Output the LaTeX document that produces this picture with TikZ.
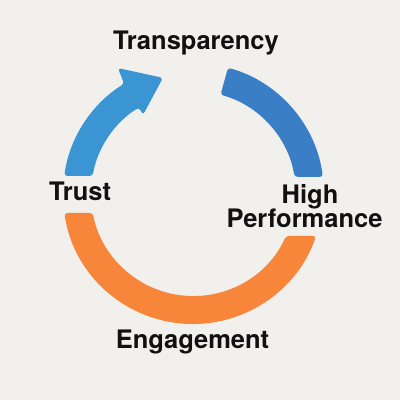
\documentclass[tikz,border=0pt]{standalone}
\usepackage{fontspec}
\setmainfont{TeX Gyre Heros}
\usetikzlibrary{calc}
\definecolor{bgc}{HTML}{F2F0ED}
\definecolor{blueL}{HTML}{3B95D3}
\definecolor{blueR}{HTML}{3A7EC6}
\definecolor{orng}{HTML}{F7863A}
\definecolor{ink}{HTML}{111111}
\tikzset{
  lbl/.style={font=\fontsize{25.5}{28}\selectfont\bfseries, text=ink, inner sep=0pt, anchor=base},
  seg/.style={rounded corners=3pt}
}
\begin{document}
\begin{tikzpicture}[x=1pt,y=1pt]
\useasboundingbox (0,0) rectangle (400,400);
\fill[bgc] (0,0) rectangle (400,400);
\coordinate (c) at (193,206);
% orange arc (bottom)
\fill[orng,seg] ($(c)+(188.4:130)$) arc[start angle=188.4, end angle=341.15, radius=130]
  -- ($(c)+(335.7:102)$) arc[start angle=335.7, end angle=190.7, radius=102] -- cycle;
% right blue arc
\fill[blueR,seg] ($(c)+(74.5:131)$) arc[start angle=74.5, end angle=7.5, radius=131]
  -- ($(c)+(9.6:103)$) arc[start angle=9.6, end angle=74.5, radius=103] -- cycle;
% left blue arrow
\fill[blueL,seg] ($(c)+(169.8:102)$) arc[start angle=169.8, end angle=122, radius=102]
  -- ($(c)+(122.3:93.5)$) -- ($(c)+(104.5:120)$) -- ($(c)+(120.8:146.6)$)
  -- ($(c)+(122:130)$) arc[start angle=122, end angle=172, radius=130] -- cycle;
% labels
\node[lbl] (transp) at (196,350) {Transparency};
\node[lbl] (trust) at (80,200) {Trust};
\node[lbl] (high) at (310,196) {High};
\node[lbl] (perf) at (304.5,172) {Performance};
\node[lbl] (eng) at (192.5,52) {Engagement};
\end{tikzpicture}
\end{document}
